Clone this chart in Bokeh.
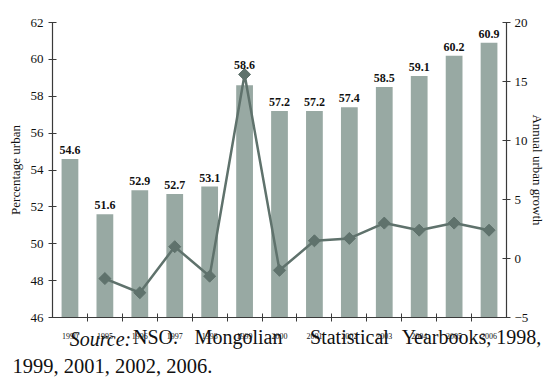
import math

from bokeh.core.properties import value
from bokeh.embed import file_html
from bokeh.models import ColumnDataSource, FixedTicker, LinearAxis, Range1d
from bokeh.plotting import figure
from bokeh.resources import INLINE

# Urbanisation in Mongolia
years = ["1990", "1995", "1996", "1997", "1998", "1999", "2000",
         "2001", "2002", "2003", "2004", "2005", "2006"]
pct_urban = [54.6, 51.6, 52.9, 52.7, 53.1, 58.6, 57.2,
             57.2, 57.4, 58.5, 59.1, 60.2, 60.9]
growth_years = ["1995", "1996", "1997", "1998", "1999", "2000",
                "2001", "2002", "2003", "2004", "2005", "2006"]
annual_growth = [-1.7, -2.9, 1.0, -1.5, 15.6, -1.0,
                 1.5, 1.7, 3.0, 2.4, 3.0, 2.4]
pct_ticks = [46, 48, 50, 52, 54, 56, 58, 60, 62]
growth_ticks = [-5, 0, 5, 10, 15, 20]

W, H = 550, 379
LEFT, RIGHT, TOP, BOTTOM = 52, 44, 22, 61
FRAME_H = H - TOP - BOTTOM
FONT = "Liberation Serif"
BAR = "#98a9a3"
LINE = "#5f726c"
INK = "#3a3a3a"
TXT = "#111111"

PCT_LO, PCT_HI = pct_ticks[0], pct_ticks[-1]
GR_LO, GR_HI = growth_ticks[0], growth_ticks[-1]

p = figure(width=W, height=H, output_backend="svg", toolbar_location=None,
           x_range=Range1d(-0.5, len(years) - 0.5),
           y_range=Range1d(PCT_LO, PCT_HI),
           min_border_left=LEFT, min_border_right=RIGHT,
           min_border_top=TOP, min_border_bottom=BOTTOM)
p.extra_y_ranges = {"growth": Range1d(GR_LO, GR_HI)}
# page-pixel x scale, used to place the source note
p.extra_x_ranges = {"page_x": Range1d(LEFT, W - RIGHT)}
p.outline_line_color = None
p.grid.visible = False
p.background_fill_color = "white"
p.border_fill_color = "white"

idx = list(range(len(years)))
growth_x = [years.index(y) for y in growth_years]
growth_by_year = dict(zip(growth_years, annual_growth))

# Value labels sit just above each bar; lift a label above the growth
# marker when the marker lands on top of the bar.
offsets = []
for yr, v in zip(years, pct_urban):
    bar_px = (v - PCT_LO) / (PCT_HI - PCT_LO) * FRAME_H
    off = -9
    if yr in growth_by_year:
        mk_px = (growth_by_year[yr] - GR_LO) / (GR_HI - GR_LO) * FRAME_H
        d = mk_px - bar_px
        if -6 < d < 22:
            off = -(d + 9)
    offsets.append(off)

src = ColumnDataSource(dict(x=idx, pct=pct_urban,
                            label=[f"{v:.1f}" for v in pct_urban],
                            off=offsets))

p.vbar(x="x", top="pct", bottom=PCT_LO, width=0.48, source=src,
       fill_color=BAR, line_color=None)

p.line(x=growth_x, y=annual_growth, y_range_name="growth",
       line_color=LINE, line_width=2.5)
p.scatter(x=growth_x, y=annual_growth, y_range_name="growth",
          marker="square", angle=math.pi / 4, size=8.5,
          fill_color=LINE, line_color=LINE)

p.text(x="x", y="pct", text="label", y_offset="off", source=src,
       text_align="center", text_baseline="alphabetic",
       text_font=value(FONT), text_font_style="bold",
       text_font_size="12px", text_color=TXT)

# bottom axis: year labels under the bars, ticks between them
xa = p.xaxis[0]
xa.ticker = FixedTicker(ticks=idx, minor_ticks=[i + 0.5 for i in idx[:-1]])
xa.major_label_overrides = {i: y for i, y in zip(idx, years)}
xa.major_tick_in = 0
xa.major_tick_out = 0
xa.minor_tick_in = 4
xa.minor_tick_out = 4
xa.major_label_standoff = 11
xa.major_label_text_font = FONT
xa.major_label_text_font_size = "8px"
xa.major_label_text_color = TXT

# left axis: percentage urban
ya = p.yaxis[0]
ya.ticker = FixedTicker(ticks=pct_ticks, minor_ticks=[])
ya.axis_label = "Percentage urban"

# right axis: annual urban growth
ra = LinearAxis(y_range_name="growth",
                ticker=FixedTicker(ticks=growth_ticks, minor_ticks=[]),
                axis_label="Annual urban growth")
p.add_layout(ra, "right")

for ax in (ya, ra):
    ax.major_tick_in = 4
    ax.major_tick_out = 4
    ax.minor_tick_in = 0
    ax.minor_tick_out = 0
    ax.major_label_text_font = FONT
    ax.major_label_text_font_size = "13px"
    ax.major_label_text_color = TXT
    ax.axis_label_text_font = FONT
    ax.axis_label_text_font_size = "13px"
    ax.axis_label_text_font_style = "normal"
    ax.axis_label_text_color = TXT
ya.major_label_standoff = 5
ya.axis_label_standoff = 5
# keep the right-hand panel within its 44 px border
ra.major_label_standoff = 4
ra.axis_label_standoff = -1

for ax in (xa, ya, ra):
    ax.axis_line_color = INK
    ax.major_tick_line_color = INK
    ax.minor_tick_line_color = INK
    ax.axis_line_width = 1.2

# Source note: bare text rows (no rule, no ticks) on the page-pixel scale,
# word centres in page pixels. Standoffs pull the rows up under the years.
note_rows = [
    (["NSO.", "Mongolian", "Statistical", "Yearbooks, 1998,"],
     [155, 238, 349, 471], "normal", "20px", -16),
    (["Source:"], [100], "italic", "20px", -23),
    (["1999, 2001, 2002, 2006."], [112], "normal", "20.5px", 2),
]
for words, centres, style, size, standoff in note_rows:
    row = LinearAxis(x_range_name="page_x",
                     ticker=FixedTicker(ticks=centres, minor_ticks=[]),
                     major_label_overrides=dict(zip(centres, words)))
    row.axis_line_color = None
    row.major_tick_line_color = None
    row.minor_tick_line_color = None
    row.major_tick_in = 0
    row.major_tick_out = 0
    row.minor_tick_in = 0
    row.minor_tick_out = 0
    row.major_label_standoff = standoff
    row.major_label_text_font = FONT
    row.major_label_text_font_size = size
    row.major_label_text_font_style = style
    row.major_label_text_color = TXT
    p.add_layout(row, "below")

open("out.html", "w").write(file_html(p, INLINE))
